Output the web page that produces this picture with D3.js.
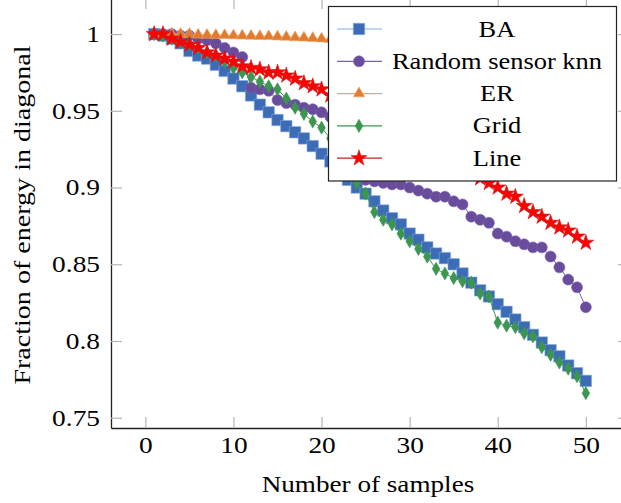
<!DOCTYPE html>
<html>
<head>
<meta charset="utf-8">
<script src="https://cdn.jsdelivr.net/npm/d3@7"></script>
<style>
  body { margin: 0; background: #fff; }
  svg { display: block; overflow: hidden; }
  .tick line { stroke: #b4b4b4; stroke-width: 1.2; }
  .domain { stroke: #222; stroke-width: 1.3; }
</style>
</head>
<body>
<div id="chart"></div>
<script>
// Data
const samples = d3.range(1, 51);
const seriesNames = ["BA", "Random sensor knn", "ER", "Grid", "Line"];

const baValues = [1.000,0.999,0.997,0.994,0.989,0.986,0.984,0.980,0.976,0.971,
  0.966,0.960,0.954,0.949,0.944,0.940,0.936,0.932,0.927,0.922,
  0.917,0.911,0.905,0.900,0.896,0.891,0.885,0.880,0.876,0.870,
  0.866,0.861,0.857,0.854,0.850,0.844,0.838,0.833,0.829,0.824,
  0.819,0.814,0.809,0.804,0.799,0.794,0.790,0.784,0.779,0.774];
const knnValues = [1.000,1.000,1.000,0.999,0.999,0.997,0.996,0.994,0.991,0.988,
  0.985,0.965,0.964,0.963,0.957,0.955,0.954,0.952,0.951,0.949,
  0.946,0.934,0.918,0.906,0.905,0.904,0.903,0.902,0.902,0.900,
  0.898,0.896,0.894,0.894,0.891,0.889,0.881,0.879,0.877,0.870,
  0.868,0.865,0.863,0.861,0.861,0.855,0.848,0.840,0.835,0.822];
const erValues = [1.000,1.000,1.000,1.000,1.000,0.9995,0.9994,0.9993,0.9992,0.999,
  0.9989,0.9988,0.9986,0.9985,0.9983,0.9981,0.9978,0.9976,0.9973,0.997,
  0.9966,0.9963,0.996,0.9956,0.9952,0.9948,0.9944,0.994,0.9936,0.9931,
  0.9927,0.9922,0.9917,0.9912,0.9907,0.9902,0.9897,0.9891,0.9886,0.988,
  0.9875,0.9869,0.9863,0.9857,0.9851,0.9845,0.9839,0.9833,0.9826,0.982];
const gridValues = [1.000,0.999,0.997,0.995,0.994,0.991,0.988,0.986,0.982,0.978,
  0.975,0.972,0.969,0.966,0.964,0.958,0.952,0.948,0.943,0.939,
  0.932,0.923,0.913,0.903,0.896,0.884,0.879,0.876,0.870,0.865,
  0.860,0.855,0.847,0.844,0.841,0.839,0.838,0.831,0.829,0.812,
  0.810,0.809,0.805,0.803,0.796,0.791,0.786,0.782,0.777,0.766];
const lineValues = [1.000,1.000,0.997,0.995,0.993,0.991,0.988,0.986,0.984,0.982,
  0.979,0.978,0.977,0.975,0.975,0.973,0.971,0.968,0.966,0.964,
  0.960,0.958,0.955,0.952,0.950,0.947,0.944,0.941,0.938,0.934,
  0.931,0.927,0.924,0.920,0.916,0.913,0.909,0.906,0.903,0.900,
  0.896,0.894,0.888,0.884,0.881,0.877,0.874,0.872,0.868,0.864];

const xTicks = [0, 10, 20, 30, 40, 50];
const yTicks = [0.75, 0.8, 0.85, 0.9, 0.95, 1];
const yTickLabels = ["0.75", "0.8", "0.85", "0.9", "0.95", "1"];

const width = 621, height = 503;
const serif = "'Liberation Serif', 'DejaVu Serif', serif";

let svg = d3.select("#chart").append("svg")
  .attr("width", width)
  .attr("height", height);

// Scales (pgfplots enlarged limits)
let x = d3.scaleLinear().domain([-3.9, 54.9]).range([111, 629]);
let y = d3.scaleLinear().domain([0.7433, 1.0235]).range([428, -2]);

// widen glyphs a bit so Times looks closer to CM
function widen(sel, k) {
  sel.each(function() {
    let w = this.getComputedTextLength();
    d3.select(this).attr("textLength", w * k).attr("lengthAdjust", "spacingAndGlyphs");
  });
}

function serifText(sel, size) {
  sel.style("font-family", serif)
    .style("font-size", size + "px")
    .style("fill", "#000");
}

// Axes with inward ticks on all four sides
let gx = svg.append("g")
  .attr("transform", "translate(0,428)")
  .call(d3.axisBottom(x).tickValues(xTicks).tickSize(-11).tickSizeOuter(0).tickPadding(9));
let gy = svg.append("g")
  .attr("transform", "translate(111,0)")
  .call(d3.axisLeft(y).tickValues(yTicks).tickSize(-11).tickSizeOuter(0).tickPadding(11)
    .tickFormat((d, i) => yTickLabels[i]));
svg.append("g")
  .attr("transform", "translate(0,-2)")
  .call(d3.axisTop(x).tickValues(xTicks).tickSize(-11).tickSizeOuter(0).tickFormat(""));
svg.append("g")
  .attr("transform", "translate(629,0)")
  .call(d3.axisRight(y).tickValues(yTicks).tickSize(-11).tickSizeOuter(0).tickFormat(""));

serifText(svg.selectAll(".tick text"), 23);
widen(gx.selectAll(".tick text"), 1.19);
widen(gy.selectAll(".tick text"), 1.19);

// Axis labels
let xl = svg.append("text")
  .attr("x", 368)
  .attr("y", 492)
  .attr("text-anchor", "middle")
  .text("Number of samples");
serifText(xl, 23);
widen(xl, 1.18);

let yl = svg.append("text")
  .attr("transform", "translate(30,215) rotate(-90)")
  .attr("text-anchor", "middle")
  .text("Fraction of energy in diagonal");
serifText(yl, 23);
widen(yl, 1.22);

// Series
let series = [
  {name: seriesNames[0], values: baValues, fill: "#3b6cb5", stroke: "#86a8dc", symbol: d3.symbolSquare, size: 130},
  {name: seriesNames[1], values: knnValues, fill: "#6a4c9c", stroke: "#7c60b0", symbol: d3.symbolCircle, size: 95},
  {name: seriesNames[2], values: erValues, fill: "#e07b30", stroke: "#f0a46a", symbol: d3.symbolTriangle, size: 55},
  {name: seriesNames[3], values: gridValues, fill: "#3b9650", stroke: "#3b9650", symbol: d3.symbolDiamond, size: 50},
  {name: seriesNames[4], values: lineValues, fill: "#ff0000", stroke: "#c8201e", symbol: d3.symbolStar, size: 80}
];

let line = d3.line()
  .x((d, i) => x(samples[i]))
  .y(d => y(d));

for (let s of series) {
  let g = svg.append("g");
  g.append("path")
    .datum(s.values)
    .attr("fill", "none")
    .attr("stroke", s.stroke)
    .attr("stroke-width", 1)
    .attr("d", line);
  g.selectAll("path.mark")
    .data(s.values)
    .join("path")
    .attr("class", "mark")
    .attr("transform", (d, i) => "translate(" + x(samples[i]) + "," + y(d) + ")")
    .attr("d", d3.symbol(s.symbol, s.size))
    .attr("fill", s.fill)
    .attr("stroke", s.stroke)
    .attr("stroke-width", 0.6);
}

// Legend
let legend = svg.append("g");
legend.append("rect")
  .attr("x", 328.5)
  .attr("y", 6.5)
  .attr("width", 288)
  .attr("height", 174.5)
  .attr("fill", "#fff")
  .attr("stroke", "#222")
  .attr("stroke-width", 1.2);

series.forEach((s, i) => {
  let cy = 29 + i * 32.3;
  legend.append("line")
    .attr("x1", 337).attr("x2", 382)
    .attr("y1", cy).attr("y2", cy)
    .attr("stroke", s.stroke)
    .attr("stroke-width", 1.2);
  legend.append("path")
    .attr("transform", "translate(359," + cy + ")")
    .attr("d", d3.symbol(s.symbol, s.size))
    .attr("fill", s.fill)
    .attr("stroke", s.stroke)
    .attr("stroke-width", 0.6);
  let t = legend.append("text")
    .attr("x", 497)
    .attr("y", cy + 7.5)
    .attr("text-anchor", "middle")
    .text(s.name);
  serifText(t, 23);
  widen(t, 1.15);
});
</script>
</body>
</html>
